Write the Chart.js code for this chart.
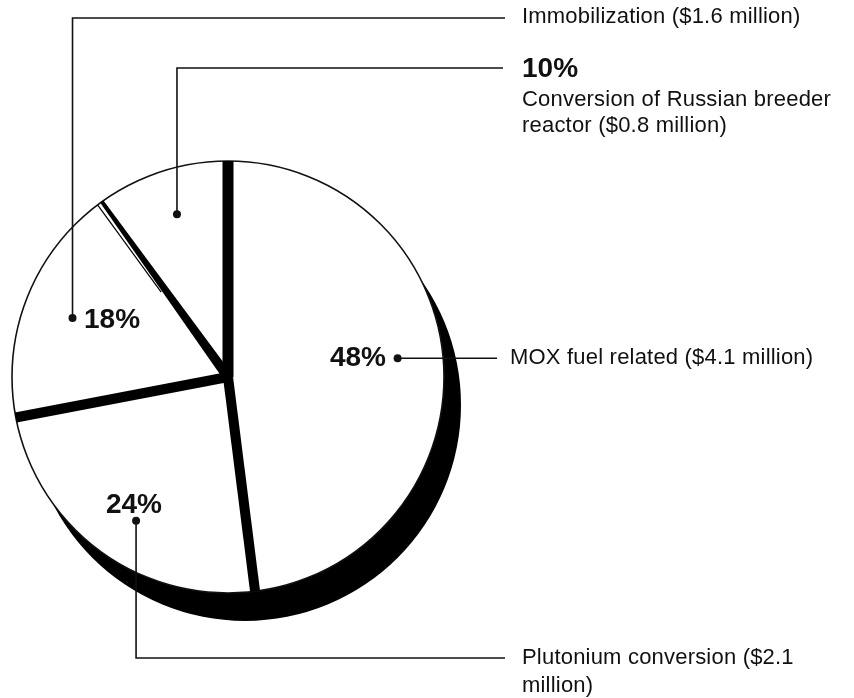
<!DOCTYPE html>
<html>
<head>
<meta charset="utf-8">
<title>Plutonium disposition funding</title>
<script src="https://cdn.jsdelivr.net/npm/chart.js@4/dist/chart.umd.min.js"></script>
<style>
  html, body { margin: 0; padding: 0; background: #fff; }
  canvas { display: block; }
</style>
</head>
<body>
<canvas id="pie" width="854" height="698"></canvas>
<script>
'use strict';

// slice data, clockwise from 12 o'clock
const categories = ['MOX fuel related', 'Plutonium conversion', 'Immobilization', 'Conversion of Russian breeder reactor'];
const shares = [48, 24, 18, 10];           // percent
const costs = [4.1, 2.1, 1.6, 0.8];        // $ million

// label text as printed (line breaks as in the original)
const descLines = [
  ['MOX fuel related ($4.1 million)'],
  ['Plutonium conversion ($2.1', 'million)'],
  ['Immobilization ($1.6 million)'],
  ['Conversion of Russian breeder', 'reactor ($0.8 million)']
];

const INK = '#111';
const REG = '22px "Liberation Sans", Arial, sans-serif';
const BOLD = 'bold 28px "Liberation Sans", Arial, sans-serif';

// where each callout goes
const callouts = [
  { nudge: -2.7, rf: 0.79, pct: { x: 386, dy: 0, align: 'right' }, turnY: null, lineEnd: 497, textX: 510, textY: [null] },
  { nudge: -3.4, rf: 0.79, pct: { x: 134, dy: -15, align: 'center' }, turnY: 658, lineEnd: 505, textX: 522, textY: [658, 686] },
  { nudge: -0.8, rf: 0.77, pct: { x: 84, dy: 2, align: 'left' }, turnY: 18, lineEnd: 505, textX: 522, textY: [17] },
  { nudge: 0.6, rf: 0.79, pct: null, turnY: 68, lineEnd: 503, textX: 522, textY: [100, 126], headY: 69 }
];

const pieDecor = {
  id: 'pieDecor',
  beforeDatasetsDraw(chart) {
    const arc = chart.getDatasetMeta(0).data[0];
    const ctx = chart.ctx;
    ctx.save();
    // black drop shadow, down and to the right
    ctx.fillStyle = '#000';
    ctx.beginPath();
    ctx.arc(arc.x + 17, arc.y + 28, arc.outerRadius, 0, Math.PI * 2);
    ctx.fill();
    ctx.restore();
  },
  afterDatasetsDraw(chart) {
    const arcs = chart.getDatasetMeta(0).data;
    const ctx = chart.ctx;
    const cx = arcs[0].x, cy = arcs[0].y, R = arcs[0].outerRadius;
    ctx.save();

    // outline
    ctx.strokeStyle = INK;
    ctx.lineWidth = 1.6;
    ctx.beginPath();
    ctx.arc(cx, cy, R, 0, Math.PI * 2);
    ctx.stroke();

    // thick black separators between slices
    ctx.strokeStyle = '#000';
    ctx.lineCap = 'butt';
    arcs.forEach((a, i) => {
      const ang = a.startAngle;
      if (i === 3) {
        // tapered wedge with a thin edge line beside it
        const nx = -Math.sin(ang), ny = Math.cos(ang);
        const ex = cx + Math.cos(ang) * R, ey = cy + Math.sin(ang) * R;
        ctx.fillStyle = '#000';
        ctx.beginPath();
        ctx.moveTo(cx - nx * 5, cy - ny * 5);
        ctx.lineTo(cx + nx * 5, cy + ny * 5);
        ctx.lineTo(ex + nx * 3, ey + ny * 3);
        ctx.lineTo(ex - nx * 1, ey - ny * 1);
        ctx.closePath();
        ctx.fill();
        const a2 = ang - 0.02;
        ctx.lineWidth = 1.2;
        ctx.beginPath();
        ctx.moveTo(cx + Math.cos(a2) * R * 0.5 - nx * 2, cy + Math.sin(a2) * R * 0.5 - ny * 2);
        ctx.lineTo(cx + Math.cos(a2) * R, cy + Math.sin(a2) * R);
        ctx.stroke();
        return;
      }
      ctx.lineWidth = i === 0 ? 11 : 10;
      ctx.beginPath();
      ctx.moveTo(cx, cy);
      ctx.lineTo(cx + Math.cos(ang) * R, cy + Math.sin(ang) * R);
      ctx.stroke();
    });

    // callouts
    ctx.strokeStyle = INK;
    ctx.fillStyle = INK;
    ctx.lineWidth = 1.6;
    ctx.textBaseline = 'middle';
    arcs.forEach((a, i) => {
      const c = callouts[i];
      const mid = (a.startAngle + a.endAngle) / 2 + c.nudge * Math.PI / 180;
      const dx = cx + Math.cos(mid) * R * c.rf;
      const dy = cy + Math.sin(mid) * R * c.rf;

      ctx.beginPath();
      ctx.moveTo(dx, dy);
      if (c.turnY === null) {
        ctx.lineTo(c.lineEnd, dy);
      } else {
        ctx.lineTo(dx, c.turnY);
        ctx.lineTo(c.lineEnd, c.turnY);
      }
      ctx.stroke();

      ctx.beginPath();
      ctx.arc(dx, dy, 4, 0, Math.PI * 2);
      ctx.fill();

      const pctText = shares[i] + '%';
      ctx.font = BOLD;
      ctx.letterSpacing = '0px';
      if (c.pct) {
        ctx.textAlign = c.pct.align;
        ctx.fillText(pctText, c.pct.x, dy + c.pct.dy);
      } else {
        ctx.textAlign = 'left';
        ctx.fillText(pctText, c.textX, c.headY);
      }

      ctx.font = REG;
      ctx.letterSpacing = '0.2px';
      ctx.textAlign = 'left';
      descLines[i].forEach((line, k) => {
        const y = c.textY[k] === null ? dy : c.textY[k];
        ctx.fillText(line, c.textX, y);
      });
    });
    ctx.restore();
  }
};

new Chart(document.getElementById('pie').getContext('2d'), {
  type: 'pie',
  data: {
    labels: categories,
    datasets: [{
      data: shares,
      backgroundColor: '#fff',
      borderWidth: 0,
      radius: 216
    }]
  },
  options: {
    responsive: false,
    animation: false,
    layout: { padding: { left: 0, right: 398, top: 147, bottom: 91 } },
    plugins: {
      legend: { display: false },
      tooltip: { enabled: false }
    },
    events: []
  },
  plugins: [pieDecor]
});
</script>
</body>
</html>
